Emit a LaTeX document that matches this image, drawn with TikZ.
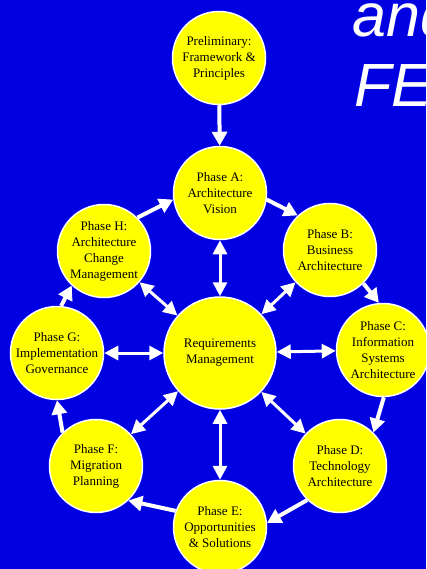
\documentclass[tikz,border=0pt]{standalone}
\usepackage{fontspec}
\setmainfont{Liberation Serif}
\newfontfamily\titlefont{Liberation Sans}
\usetikzlibrary{arrows.meta}
\definecolor{bgblue}{RGB}{0,0,225}
\definecolor{phyellow}{RGB}{255,255,0}
\begin{document}
\begin{tikzpicture}[x=1pt,y=-1pt,
  phase/.style={circle,draw=white,line width=1.5pt,fill=phyellow,minimum size=93pt,
    inner sep=0pt,align=center,text=black,font=\fontsize{13}{16}\selectfont},
  ringarrow/.style={draw=white,line width=4pt,-{Triangle[length=14pt,width=15pt]}},
  dblarrow/.style={draw=white,line width=3pt,
    {Triangle[length=14pt,width=14pt]}-{Triangle[length=14pt,width=14pt]}},
  titletext/.style={anchor=base west,inner sep=0pt,text=white,
    font=\titlefont\itshape\fontsize{61}{61}\selectfont}
]
\clip (0,0) rectangle (426,569);
\fill[bgblue] (0,0) rectangle (426,569);

\node[titletext] (t1) at (352,37) {and};
\node[titletext] (t2) at (354,107) {FE};

\node[phase] (P) at (219,58) {Preliminary:\\Framework \&\\Principles};
\node[phase] (A) at (220,193) {Phase A:\\Architecture\\Vision};
\node[phase] (B) at (330,250) {Phase B:\\Business\\Architecture};
\node[phase] (C) at (383,350) {Phase C:\\Information\\Systems\\Architecture};
\node[phase] (D) at (340,466) {Phase D:\\Technology\\Architecture};
\node[phase] (E) at (220,527) {Phase E:\\Opportunities\\\& Solutions};
\node[phase] (F) at (96,466) {Phase F:\\Migration\\Planning};
\node[phase] (G) at (57,353) {Phase G:\\Implementation\\Governance};
\node[phase] (H) at (104,251) {Phase H:\\Architecture\\Change\\Management};
\node[phase,minimum size=112pt] (R) at (220,353) {Requirements\\Management};

% ring arrows
\draw[ringarrow] (P) -- (A);
\draw[ringarrow] (A.-8) -- (B.133);
\draw[ringarrow] (B.-45) -- (C.95);
\draw[ringarrow] (C.-89) -- (D.45);
\draw[ringarrow] (D.-134) -- (E.5);
\draw[ringarrow] (E.160) -- (F.-47);
\draw[ringarrow] (F.135) -- (G.-90);
\draw[ringarrow] (G.85) -- (H.-133);
\draw[ringarrow] (H.45) -- (A.188);

% centre arrows
\draw[dblarrow] (R) -- (A);
\draw[dblarrow] (R) -- (B);
\draw[dblarrow] (R) -- (C);
\draw[dblarrow] (R) -- (D);
\draw[dblarrow] (R) -- (E);
\draw[dblarrow] (R) -- (F);
\draw[dblarrow] (R) -- (G);
\draw[dblarrow] (R) -- (H);
\end{tikzpicture}
\end{document}
